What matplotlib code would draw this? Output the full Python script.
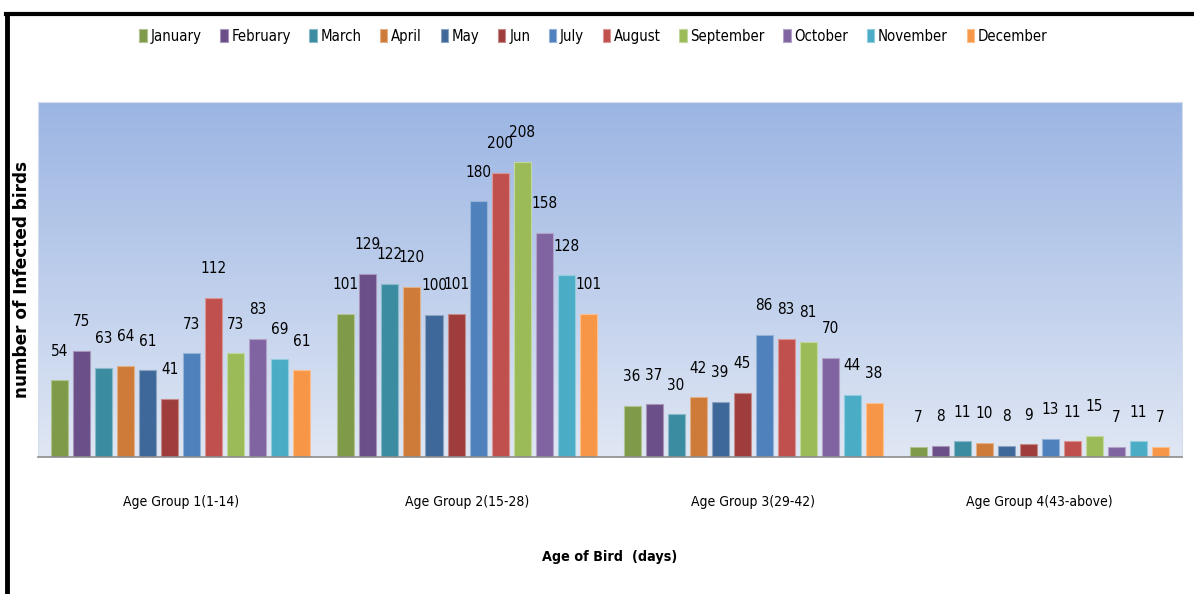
import numpy as np
import matplotlib.pyplot as plt
from matplotlib.colors import to_rgb, LinearSegmentedColormap
from matplotlib.lines import Line2D

groups = ["Age Group 1(1-14)", "Age Group 2(15-28)",
          "Age Group 3(29-42)", "Age Group 4(43-above)"]
months = ["January", "February", "March", "April", "May", "Jun", "July",
          "August", "September", "October", "November", "December"]

# infected birds per month, one row per age group
group1 = [54, 75, 63, 64, 61, 41, 73, 112, 73, 83, 69, 61]
group2 = [101, 129, 122, 120, 100, 101, 180, 200, 208, 158, 128, 101]
group3 = [36, 37, 30, 42, 39, 45, 86, 83, 81, 70, 44, 38]
group4 = [7, 8, 11, 10, 8, 9, 13, 11, 15, 7, 11, 7]

colors = ["#7F9A48", "#6A4F88", "#3B8CA1", "#CE7B39", "#3E6899", "#9E3D3B",
          "#4F81BD", "#C0504D", "#9BBB59", "#8064A2", "#4BACC6", "#F79646"]

values = np.array([group1, group2, group3, group4])

fig = plt.figure(figsize=(11.94, 5.94), dpi=100)
ax = fig.add_axes([0.0318, 0.2306, 0.9582, 0.5977])

# vertical gradient behind the bars
grad = LinearSegmentedColormap.from_list("bg", ["#E0E7F4", "#9BB5E3"])
ax.imshow(np.linspace(0, 1, 256).reshape(-1, 1), cmap=grad, origin="lower",
          extent=[-0.5, 3.5, 0, 250], aspect="auto", zorder=0)

x = np.arange(len(groups))
pitch = 22 / 286
width = 17 / 286
for i, (m, c) in enumerate(zip(months, colors)):
    pos = x + (i - 5.5) * pitch
    edge = 0.6 * np.array(to_rgb(c)) + 0.4
    bars = ax.bar(pos, values[:, i], width, color=c, edgecolor=edge,
                  linewidth=0.8, label=m, zorder=2)
    for b, v in zip(bars, values[:, i]):
        ax.annotate(str(v), (b.get_x() + b.get_width() / 2, v),
                    xytext=(0, 21), textcoords="offset points",
                    ha="center", va="center", fontsize=11,
                    fontstretch="condensed", color="black", zorder=3)

ax.set_xlim(-0.5, 3.5)
ax.set_ylim(0, 250)
ax.set_yticks([])
ax.set_xticks(x)
ax.set_xticklabels(groups, fontstretch="condensed", fontsize=10)
ax.tick_params(axis="x", length=0, pad=27)
for s in ["top", "right", "left"]:
    ax.spines[s].set_color("#D5DCEC")
    ax.spines[s].set_linewidth(0.8)
ax.spines["bottom"].set_color("#8C8C8C")
ax.spines["bottom"].set_linewidth(1.2)

ax.set_ylabel("number of Infected birds", fontsize=12.2, fontweight="bold",
              labelpad=5)
ax.set_xlabel("Age of Bird  (days)", fontstretch="condensed", fontsize=10.3,
              fontweight="bold", labelpad=30)

leg = fig.legend(loc="center", bbox_to_anchor=(0.497, 0.939), ncol=12,
                 frameon=False, handlelength=0.5, handleheight=1.0,
                 handletextpad=0.25, columnspacing=1.25,
                 prop={"stretch": "condensed", "size": 10.7})

# outer frame lines
fig.add_artist(Line2D([5.5 / 1194, 1], [1 - 13.5 / 594] * 2, color="black",
                      linewidth=3, transform=fig.transFigure))
fig.add_artist(Line2D([7 / 1194] * 2, [0, 1 - 13.5 / 594], color="black",
                      linewidth=3.5, transform=fig.transFigure))

fig.savefig("out.png", dpi=100)
